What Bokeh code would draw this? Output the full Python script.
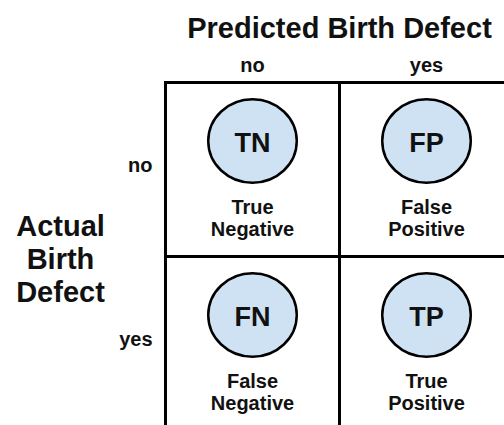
from bokeh.plotting import figure
from bokeh.models import Range1d
from bokeh.core.properties import value
from bokeh.embed import file_html
from bokeh.resources import INLINE

# ---- data ----
col_title = "Predicted Birth Defect"
row_title = ["Actual", "Birth", "Defect"]
predicted = ["no", "yes"]
actual = ["no", "yes"]
abbrevs = [["TN", "FP"], ["FN", "TP"]]
names_line1 = [["True", "False"], ["False", "True"]]
names_line2 = [["Negative", "Positive"], ["Negative", "Positive"]]

# ---- layout (pixels) ----
W, H = 504, 425
OX, OY, CELL = 165, 82, 174
SHIFT = -8  # text baseline correction (px)
FONT = value("Liberation Sans")

def px(v):
    return v / CELL

def tpx(v):
    return (v + SHIFT) / CELL

nc, nr = len(predicted), len(actual)

p = figure(width=W, height=H, output_backend="svg", toolbar_location=None,
           x_range=Range1d(-OX / CELL, (W - OX) / CELL),
           y_range=Range1d((H - OY) / CELL, -OY / CELL),
           x_axis_type=None, y_axis_type=None, min_border=0)
p.grid.visible = False
p.outline_line_color = None
p.background_fill_color = "white"
p.border_fill_color = "white"

# grid lines
p.segment(x0=list(range(nc + 1)), y0=[0] * (nc + 1),
          x1=list(range(nc + 1)), y1=[nr] * (nc + 1),
          line_color="black", line_width=3, line_cap="square")
p.segment(x0=[0] * (nr + 1), y0=list(range(nr + 1)),
          x1=[nc] * (nr + 1), y1=list(range(nr + 1)),
          line_color="black", line_width=3, line_cap="square")

# cells
cx, cy, ab, l1, l2 = [], [], [], [], []
for r in range(nr):
    for c in range(nc):
        cx.append(c + 0.5)
        cy.append(r)
        ab.append(abbrevs[r][c])
        l1.append(names_line1[r][c])
        l2.append(names_line2[r][c])

p.ellipse(x=cx, y=[y + px(58.5) for y in cy], width=88.5, height=83.5,
          width_units="screen", height_units="screen",
          fill_color="#cfe2f3", line_color="black", line_width=2.5)
p.text(x=cx, y=[y + tpx(68.5) for y in cy], text=ab,
       text_font=FONT, text_font_style="bold", text_font_size="27px",
       text_align="center", text_baseline="alphabetic", text_color="#111111")
p.text(x=cx, y=[y + tpx(132) for y in cy], text=l1,
       text_font=FONT, text_font_style="bold", text_font_size="20px",
       text_align="center", text_baseline="alphabetic", text_color="#111111")
p.text(x=cx, y=[y + tpx(154.5) for y in cy], text=l2,
       text_font=FONT, text_font_style="bold", text_font_size="20px",
       text_align="center", text_baseline="alphabetic", text_color="#111111")

# column header
p.text(x=[nc / 2], y=[tpx(-47)], text=[col_title],
       text_font=FONT, text_font_style="bold", text_font_size="29px",
       text_align="center", text_baseline="alphabetic", text_color="#111111")
p.text(x=[c + 0.5 for c in range(nc)], y=[tpx(-10)] * nc, text=predicted,
       text_font=FONT, text_font_style="bold", text_font_size="20px",
       text_align="center", text_baseline="alphabetic", text_color="#111111")

# row header
p.text(x=[px(-13)] * nr, y=[r + tpx(90) for r in range(nr)], text=actual,
       text_font=FONT, text_font_style="bold", text_font_size="20px",
       text_align="right", text_baseline="alphabetic", text_color="#111111")
p.text(x=[px(-105)] * len(row_title),
       y=[tpx(151 + 33 * i) for i in range(len(row_title))], text=row_title,
       text_font=FONT, text_font_style="bold", text_font_size="29px",
       text_align="center", text_baseline="alphabetic", text_color="#111111")

open("out.html", "w").write(file_html(p, INLINE))
